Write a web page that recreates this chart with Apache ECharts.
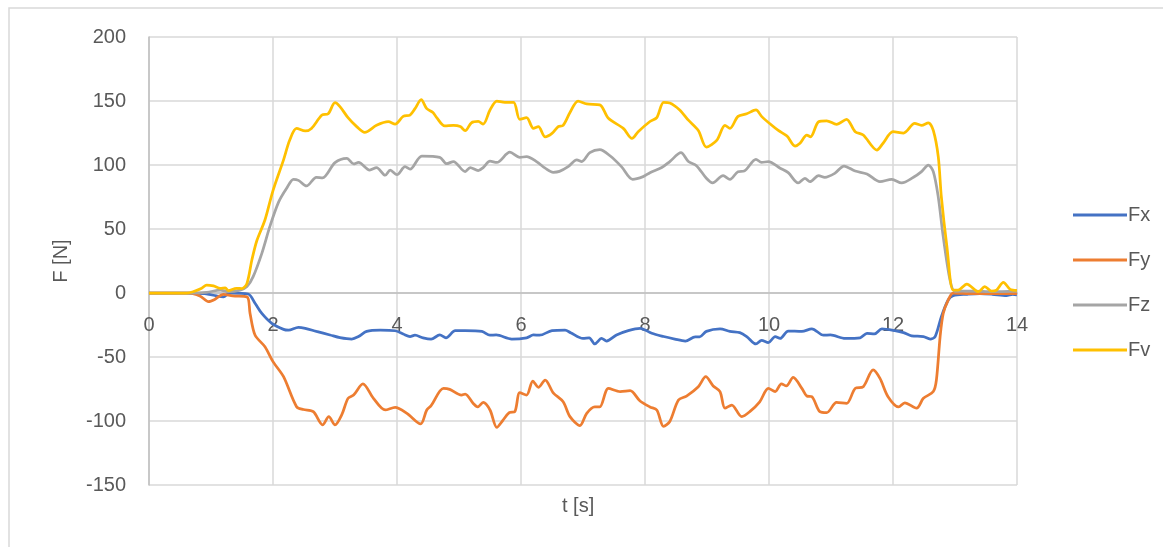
<!DOCTYPE html>
<html>
<head>
<meta charset="utf-8">
<script src="https://cdn.jsdelivr.net/npm/echarts@6/dist/echarts.min.js"></script>
<style>
  html, body { margin: 0; padding: 0; background: #fff; }
  #chart { width: 1163px; height: 547px; }
</style>
</head>
<body>
<div id="chart"></div>
<script>
// Force components over time, [t (s), F (N)]
const fx = [
  [0, 0], [0.6, 0], [0.9, -0.5], [1.09, -2.3], [1.2, -3], [1.3, 0], [1.6, -0.8], [1.71, -8],
  [1.82, -16], [1.98, -23.7], [2.17, -28.4], [2.25, -29], [2.41, -26.8], [2.52, -27.6],
  [2.7, -30], [2.92, -32.8], [3.08, -34.9], [3.27, -36], [3.38, -34], [3.51, -30],
  [3.73, -29], [3.97, -29.5], [4.1, -32], [4.21, -34], [4.29, -33], [4.42, -35],
  [4.55, -36], [4.69, -32.8], [4.79, -35], [4.94, -29.4], [5.1, -29.4], [5.37, -30],
  [5.5, -33], [5.6, -32.8], [5.85, -36], [6.09, -35], [6.2, -32.8], [6.3, -33],
  [6.5, -29.4], [6.71, -29], [6.8, -31], [7.0, -35.5], [7.1, -35], [7.19, -39.8],
  [7.3, -35.5], [7.38, -37.5], [7.54, -32.8], [7.73, -29.4], [7.92, -27.6], [8.11, -31.5],
  [8.3, -34], [8.48, -36], [8.65, -37.5], [8.81, -34.3], [8.88, -34.3], [8.99, -30],
  [9.21, -28], [9.37, -30], [9.53, -31], [9.64, -34], [9.79, -39.8], [9.88, -37],
  [9.99, -38.7], [10.1, -34], [10.18, -35.5], [10.31, -29.7], [10.53, -30], [10.69, -28],
  [10.88, -33], [10.99, -32.8], [11.23, -35.5], [11.47, -35], [11.58, -31.5], [11.7, -32],
  [11.82, -28], [12.03, -29.4], [12.17, -31], [12.3, -33.5], [12.49, -34], [12.6, -36],
  [12.68, -34], [12.78, -18.5], [12.89, -5.5], [12.97, -2], [13.2, -1], [13.4, -0.5],
  [13.6, -1], [13.83, -2], [13.93, -1], [14, -1.5]
];
const fy = [
  [0, 0], [0.65, 0], [0.82, -2.3], [0.96, -6.7], [1.06, -5], [1.2, -1], [1.35, -2.3],
  [1.58, -3], [1.63, -16], [1.71, -32.8], [1.87, -42], [2.0, -53.6], [2.17, -65.4],
  [2.38, -88.8], [2.49, -91], [2.65, -92.7], [2.8, -103], [2.9, -96.6], [3.0, -103],
  [3.11, -95], [3.21, -82.3], [3.3, -79.7], [3.45, -71], [3.62, -82.3], [3.81, -91.4],
  [3.97, -89.3], [4.16, -94], [4.38, -102.3], [4.48, -91.4], [4.55, -88], [4.75, -74.5],
  [4.85, -75.3], [5.04, -79.7], [5.1, -79], [5.23, -86.3], [5.3, -89], [5.39, -85.5],
  [5.5, -91.4], [5.61, -105], [5.7, -100], [5.81, -93.5], [5.9, -92.7], [5.98, -77.9],
  [6.09, -79.7], [6.19, -68.8], [6.28, -73.7], [6.39, -68], [6.52, -78], [6.68, -85],
  [6.79, -96.6], [6.95, -103.6], [7.06, -94], [7.19, -89], [7.27, -89], [7.41, -74.5],
  [7.6, -77], [7.76, -76.3], [7.92, -84.4], [8.08, -89], [8.19, -91.4], [8.3, -104.2],
  [8.4, -100.4], [8.54, -83.6], [8.67, -80.5], [8.86, -73.2], [8.98, -65.4], [9.1, -72.6],
  [9.21, -77], [9.29, -90], [9.4, -87.5], [9.56, -96.6], [9.69, -92.7], [9.85, -85],
  [9.99, -74.5], [10.1, -77], [10.2, -71], [10.28, -72.6], [10.39, -65.9], [10.53, -74.5],
  [10.61, -80.5], [10.69, -81], [10.82, -92.7], [10.93, -93.5], [11.09, -85.5],
  [11.25, -86.3], [11.39, -74.5], [11.52, -73.2], [11.68, -60], [11.79, -66.7],
  [11.92, -81], [12.09, -89], [12.19, -85.8], [12.38, -90], [12.49, -82.3], [12.65, -77],
  [12.7, -68], [12.76, -34], [12.81, -16], [12.89, -5.5], [12.97, 0], [13.3, -0.5],
  [13.7, -0.5], [14, -0.5]
];
const fz = [
  [0, 0], [0.6, 0], [0.93, 0.5], [1.15, 2.3], [1.28, 1], [1.47, 2.3], [1.58, 5],
  [1.68, 12.8], [1.82, 31], [1.95, 52], [2.09, 71], [2.22, 81.8], [2.33, 88.8],
  [2.41, 88], [2.54, 83.6], [2.7, 90.4], [2.8, 90], [3.0, 101.8], [3.19, 105.2],
  [3.3, 100.8], [3.38, 102], [3.56, 96], [3.67, 98], [3.81, 92], [3.89, 96], [4.0, 92.4],
  [4.13, 98.7], [4.21, 96.7], [4.4, 107], [4.69, 106], [4.8, 101], [4.91, 102.7],
  [5.1, 94.8], [5.18, 98], [5.31, 95.6], [5.39, 98], [5.5, 103], [5.61, 102], [5.82, 110],
  [5.98, 106], [6.09, 106.5], [6.25, 102.7], [6.39, 97.5], [6.52, 94.3], [6.62, 95],
  [6.76, 98.7], [6.9, 104], [6.98, 102.7], [7.11, 109.6], [7.27, 112], [7.44, 107],
  [7.62, 98.7], [7.8, 88.8], [7.97, 90.9], [8.08, 94], [8.27, 98], [8.4, 102.7],
  [8.58, 109.6], [8.7, 102.7], [8.83, 99.5], [8.99, 89.6], [9.09, 86], [9.26, 91.7],
  [9.37, 88.8], [9.5, 94.8], [9.6, 95.3], [9.79, 104.4], [9.88, 102], [9.99, 102.7],
  [10.18, 97.5], [10.31, 94], [10.47, 86], [10.58, 89.6], [10.66, 87], [10.8, 91.7],
  [10.9, 90.4], [11.06, 93.5], [11.21, 99.2], [11.39, 95.3], [11.58, 93], [11.79, 87],
  [11.98, 88.8], [12.14, 86], [12.33, 90.4], [12.46, 94.8], [12.57, 100], [12.65, 94.8],
  [12.73, 75], [12.81, 44], [12.92, 10], [13.0, 1.3], [13.3, 1.5], [13.6, 1], [14, 1.5]
];
const fv = [
  [0, 0], [0.61, 0], [0.71, 1], [0.85, 3.7], [0.93, 6.2], [1.04, 5.5], [1.15, 3.6],
  [1.23, 4], [1.28, 1.8], [1.41, 3.6], [1.5, 3.5], [1.58, 7.5], [1.66, 26], [1.74, 41],
  [1.87, 57], [2.0, 80], [2.17, 104], [2.27, 119.5], [2.38, 128.6], [2.52, 126.6],
  [2.62, 128.6], [2.79, 139], [2.89, 140], [3.0, 148.7], [3.08, 145.6], [3.21, 137],
  [3.35, 130], [3.48, 125.5], [3.67, 131], [3.86, 133.8], [3.97, 132], [4.1, 138],
  [4.21, 139], [4.29, 144], [4.39, 151], [4.48, 144], [4.58, 141], [4.64, 137],
  [4.77, 130.5], [4.91, 131], [5.02, 130], [5.1, 126.8], [5.2, 133], [5.31, 134],
  [5.39, 132], [5.5, 143], [5.61, 150], [5.74, 149], [5.88, 149], [5.98, 135.7],
  [6.09, 137], [6.2, 128.6], [6.28, 130], [6.39, 122], [6.5, 124.7], [6.6, 130],
  [6.68, 131], [6.79, 141], [6.92, 150], [7.06, 147.7], [7.27, 147], [7.41, 136.5],
  [7.65, 128.6], [7.79, 120.8], [7.89, 126], [8.08, 134], [8.19, 137], [8.3, 149],
  [8.4, 148.5], [8.56, 143], [8.7, 135], [8.86, 127], [8.99, 114], [9.16, 119.5],
  [9.29, 131], [9.37, 128.6], [9.5, 138], [9.64, 140], [9.79, 143], [9.88, 138],
  [10.02, 132], [10.15, 127], [10.29, 122.6], [10.42, 114.8], [10.5, 117], [10.61, 123.4],
  [10.67, 122], [10.8, 133.8], [10.93, 134.5], [11.09, 131.8], [11.25, 135.7],
  [11.39, 126], [11.52, 123.4], [11.74, 111.7], [11.84, 117], [12.0, 126], [12.17, 125],
  [12.35, 132.5], [12.46, 131], [12.57, 133], [12.65, 127], [12.73, 106.5], [12.78, 75],
  [12.87, 36], [12.97, 2.3], [13.05, 2.3], [13.19, 7], [13.38, 1], [13.48, 5],
  [13.59, 1.5], [13.67, 2.3], [13.78, 8.3], [13.89, 2.8], [14, 2]
];

const seriesNames = ['Fx', 'Fy', 'Fz', 'Fv'];
const seriesColors = ['#4472C4', '#ED7D31', '#A5A5A5', '#FFC000'];
const seriesData = [fx, fy, fz, fv];

const xTicks = { min: 0, max: 14, step: 2 };
const yTicks = { min: -150, max: 200, step: 50 };

const FONT = '"Liberation Sans", "DejaVu Sans", sans-serif';
const TEXT_COLOR = '#595959';

// plot area geometry
const GRID = { left: 149, right: 146, top: 37, bottom: 62 };
const plotHeight = 547 - GRID.top - GRID.bottom;
// the time axis crosses the force axis at F = 0
const zeroOffset = -plotHeight * (0 - yTicks.min) / (yTicks.max - yTicks.min);

const chart = echarts.init(document.getElementById('chart'), null, { renderer: 'canvas' });

chart.setOption({
  animation: false,
  backgroundColor: '#ffffff',
  grid: { left: GRID.left, right: GRID.right, top: GRID.top, bottom: GRID.bottom, containLabel: false },
  xAxis: {
    type: 'value',
    min: xTicks.min,
    max: xTicks.max,
    interval: xTicks.step,
    position: 'bottom',
    offset: zeroOffset,
    axisLine: { show: true, onZero: false, lineStyle: { color: '#BFBFBF', width: 1.5 } },
    axisTick: { show: false },
    axisLabel: { color: TEXT_COLOR, fontSize: 20, fontFamily: FONT, margin: 22 },
    splitLine: { show: true, lineStyle: { color: '#D9D9D9', width: 1.5 } }
  },
  yAxis: {
    type: 'value',
    min: yTicks.min,
    max: yTicks.max,
    interval: yTicks.step,
    name: 'F [N]',
    nameLocation: 'middle',
    nameGap: 78,
    nameTextStyle: { color: TEXT_COLOR, fontSize: 20, fontFamily: FONT },
    axisLine: { show: true, onZero: false, lineStyle: { color: '#BFBFBF', width: 1.5 } },
    axisTick: { show: false },
    axisLabel: { color: TEXT_COLOR, fontSize: 20, fontFamily: FONT, margin: 23 },
    splitLine: { show: true, lineStyle: { color: '#D9D9D9', width: 1.5 } }
  },
  legend: {
    orient: 'vertical',
    left: 1068,
    top: 199,
    itemWidth: 54,
    itemHeight: 3,
    itemGap: 23,
    icon: 'rect',
    textStyle: { color: TEXT_COLOR, fontSize: 20, fontFamily: FONT, lineHeight: 22, padding: [0, 0, 0, -4] },
    data: seriesNames
  },
  graphic: [
    {
      type: 'rect',
      silent: true,
      z: -10,
      shape: { x: 9, y: 8, width: 1200, height: 600 },
      style: { fill: 'none', stroke: '#D9D9D9', lineWidth: 1.5 }
    },
    {
      type: 'text',
      left: 562,
      top: 496,
      style: { text: 't [s]', fill: TEXT_COLOR, fontSize: 20, fontFamily: FONT }
    }
  ],
  series: seriesNames.map((name, i) => ({
    name: name,
    type: 'line',
    data: seriesData[i],
    smooth: 0.3,
    showSymbol: false,
    symbol: 'none',
    lineStyle: { color: seriesColors[i], width: 2.75 },
    itemStyle: { color: seriesColors[i] },
    z: 2 + i
  }))
});
</script>
</body>
</html>
